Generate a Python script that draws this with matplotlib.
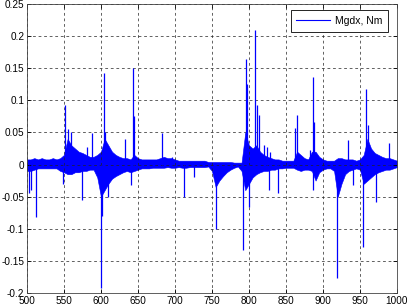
import numpy as np
import matplotlib
matplotlib.use('Agg')
import matplotlib.pyplot as plt
from matplotlib.lines import Line2D

plt.rcParams['font.family'] = ['Liberation Sans', 'DejaVu Sans']

# noise band, every 5 units of x
band_x = list(range(500, 1001, 5))
band_hi = [0.008, 0.008, 0.01, 0.008, 0.01, 0.008, 0.008, 0.01, 0.008, 0.01,
           0.015, 0.04, 0.03, 0.025, 0.02, 0.018, 0.015, 0.012, 0.012, 0.015,
           0.02, 0.04, 0.03, 0.02, 0.015, 0.012, 0.01, 0.01, 0.008, 0.015,
           0.01, 0.008, 0.008, 0.008, 0.008, 0.008, 0.01, 0.012, 0.01, 0.01,
           0.008, 0.006, 0.006, 0.006, 0.006, 0.006, 0.006, 0.006, 0.006, 0.004,
           0.004, 0.004, 0.004, 0.004, 0.004, 0.004, 0.003, 0.003, 0.003, 0.05,
           0.03, 0.025, 0.03, 0.02, 0.015, 0.012, 0.01, 0.008, 0.008, 0.006,
           0.006, 0.006, 0.006, 0.02, 0.015, 0.01, 0.008, 0.02, 0.02, 0.012,
           0.008, 0.006, 0.006, 0.006, 0.01, 0.01, 0.008, 0.008, 0.008, 0.006,
           0.008, 0.015, 0.04, 0.025, 0.018, 0.015, 0.012, 0.01, 0.01, 0.008,
           0.006]
band_lo = [-0.01, -0.01, -0.008, -0.006, -0.006, -0.006, -0.006, -0.006, -0.006, -0.01,
           -0.012, -0.015, -0.015, -0.012, -0.012, -0.01, -0.01, -0.008, -0.008, -0.02,
           -0.05, -0.04, -0.03, -0.022, -0.018, -0.015, -0.012, -0.01, -0.012, -0.01,
           -0.008, -0.006, -0.006, -0.006, -0.005, -0.005, -0.005, -0.005, -0.004, -0.005,
           -0.005, -0.004, -0.005, -0.005, -0.004, -0.004, -0.004, -0.004, -0.004, -0.003,
           -0.01, -0.035, -0.025, -0.018, -0.012, -0.008, -0.005, -0.003, -0.01, -0.04,
           -0.03, -0.02, -0.015, -0.012, -0.01, -0.01, -0.008, -0.008, -0.006, -0.006,
           -0.005, -0.005, -0.005, -0.008, -0.01, -0.008, -0.008, -0.01, -0.025, -0.012,
           -0.008, -0.006, -0.006, -0.01, -0.05, -0.03, -0.015, -0.01, -0.008, -0.006,
           -0.008, -0.03, -0.025, -0.02, -0.015, -0.012, -0.01, -0.008, -0.008, -0.006,
           -0.004]

# individual spikes (position, peak value)
spike_x = [503, 506, 512, 549, 552, 555, 559, 574, 581, 588,
           600, 601, 604, 606, 609, 632, 641, 643, 644, 682,
           696, 712, 726, 755, 792, 796, 798, 800, 808, 811,
           814, 820, 824, 827, 828, 839, 862, 865, 882, 886,
           887, 888, 919, 934, 941, 954, 958, 961, 971, 989]
spike_y = [-0.045, -0.04, -0.081, -0.03, 0.092, 0.055, 0.051, -0.055, 0.028, 0.049,
           -0.193, -0.08, 0.142, 0.05, -0.05, 0.04, -0.032, 0.15, 0.075, 0.049,
           0.012, -0.05, -0.019, -0.1, -0.133, 0.164, 0.125, -0.066, 0.21, 0.093,
           0.077, 0.03, 0.028, -0.04, 0.02, -0.045, 0.057, 0.077, 0.023, 0.137,
           -0.04, 0.067, -0.177, 0.038, -0.032, -0.128, 0.117, 0.062, -0.058, 0.033]

blue = '#0000ff'

fig = plt.figure(figsize=(4.08, 3.06), dpi=100)
ax = fig.add_axes([0.066, 0.0425, 0.907, 0.9445])

ax.fill_between(band_x, band_lo, band_hi, color=blue, lw=0.4)
ax.vlines(spike_x, 0, spike_y, color=blue, lw=0.9)

ax.set_xlim(500, 1000)
ax.set_ylim(-0.2, 0.25)
ax.set_xticks(np.arange(500, 1001, 50))
ax.set_yticks(np.arange(-0.2, 0.251, 0.05))
ax.set_yticklabels(['-0.2', '-0.15', '-0.1', '-0.05', '0', '0.05', '0.1', '0.15', '0.2', '0.25'])
ax.tick_params(direction='in', top=True, right=True, labelsize=7.2, length=3, width=0.6, pad=2)
ax.tick_params(axis='x', pad=2.5)
ax.grid(True, color='#222222', linestyle=(0, (4, 4)), linewidth=0.5)
for s in ax.spines.values():
    s.set_linewidth(0.6)
    s.set_color('#444444')

h = Line2D([], [], color=blue, lw=0.8)
leg = ax.legend([h], ['Mgdx, Nm'], loc='upper right', fontsize=7.5, fancybox=False,
                edgecolor='black', framealpha=1, handlelength=3.2, handletextpad=0.5,
                borderpad=0.55, borderaxespad=0, bbox_to_anchor=(0.976, 0.979))
leg.get_frame().set_linewidth(0.6)

fig.savefig('out.png', dpi=100)
